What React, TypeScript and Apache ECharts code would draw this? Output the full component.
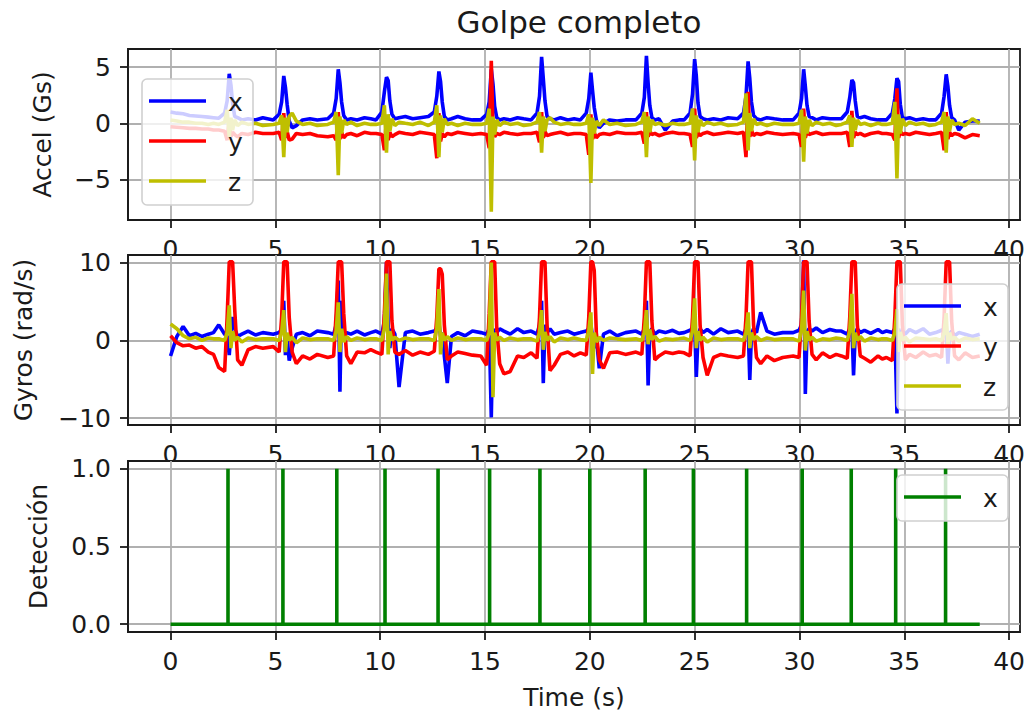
import { useEffect, useRef } from "react";
import * as echarts from "echarts";

// Sample times (s) shared by the accelerometer and gyroscope traces
const TIME = [
  0, 0.3, 0.6, 0.9, 1.2, 1.5, 1.8, 2.05,
  2.3, 2.58, 2.7, 2.8, 2.88, 2.96, 3.06, 3.2, 3.4, 3.7, 4.05, 4.4,
  4.9, 5.18, 5.3, 5.4, 5.48, 5.56, 5.66, 5.8, 6.0, 6.3, 6.65, 7.0,
  7.5, 7.78, 7.9, 8.0, 8.08, 8.16, 8.26, 8.4, 8.6, 8.9, 9.25, 9.55,
  9.8, 10.08, 10.2, 10.3, 10.38, 10.46, 10.56, 10.7, 10.9, 11.2, 11.55, 11.9,
  12.3, 12.58, 12.7, 12.8, 12.88, 12.96, 13.06, 13.2, 13.4, 13.7, 14.05, 14.4,
  14.8, 15.08, 15.2, 15.3, 15.38, 15.46, 15.56, 15.7, 15.9, 16.2, 16.55, 16.85,
  17.2, 17.48, 17.6, 17.7, 17.78, 17.86, 17.96, 18.1, 18.3, 18.6, 18.95, 19.25,
  19.55, 19.83, 19.95, 20.05, 20.13, 20.21, 20.31, 20.45, 20.65, 20.95, 21.3, 21.7,
  22.2, 22.48, 22.6, 22.7, 22.78, 22.86, 22.96, 23.1, 23.3, 23.6, 23.95, 24.25,
  24.5, 24.78, 24.9, 25.0, 25.08, 25.16, 25.26, 25.4, 25.6, 25.9, 26.25, 26.6,
  27.05, 27.33, 27.45, 27.55, 27.63, 27.71, 27.81, 27.95, 28.15, 28.45, 28.8, 29.2,
  29.7, 29.98, 30.1, 30.2, 30.28, 30.36, 30.46, 30.6, 30.8, 31.1, 31.45, 31.75,
  32.0, 32.28, 32.4, 32.5, 32.58, 32.66, 32.76, 32.9, 33.1, 33.4, 33.75, 33.95,
  34.15, 34.43, 34.55, 34.65, 34.73, 34.81, 34.91, 35.05, 35.25, 35.55, 35.9, 36.2,
  36.5, 36.78, 36.9, 37.0, 37.08, 37.16, 37.26, 37.4, 37.6, 37.9, 38.25, 38.6,
];

// Accelerometer (Gs)
const ACC_X = [
  1.0, 0.9, 0.85, 0.7, 0.65, 0.6, 0.55, 0.5,
  0.45, 0.9, 2.0, 4.4, 3.4, 1.8, 0.6, 0.5, 0.3, 0.4, 0.3, 0.5,
  0.3, 0.8, 1.9, 4.2, 3.2, 1.7, 0.2, -0.4, -0.2, 0.3, 0.4, 0.3,
  0.4, 0.9, 2.2, 4.8, 3.6, 1.9, 0.7, 0.3, 0.4, 0.3, 0.5, 0.4,
  0.3, 1.0, 2.8, 4.1, 3.8, 2.0, 0.8, 0.4, 0.5, 0.6, 0.4, 0.5,
  0.6, 1.0, 2.4, 4.6, 3.7, 1.9, 0.6, 0.3, 0.4, 0.6, 0.4, 0.3,
  0.3, 0.8, 1.9, 4.8, 3.5, 1.5, 0.5, 0.3, 0.4, 0.3, 0.5, 0.4,
  0.3, 0.9, 2.4, 5.9, 4.0, 2.0, 0.6, 0.4, 0.3, 0.5, 0.3, 0.4,
  0.3, 0.9, 2.2, 4.5, 2.9, 1.4, 0.3, -0.4, 0.0, 0.3, 0.2, 0.3,
  0.3, 0.9, 2.3, 6.0, 3.6, 1.6, 0.5, 0.3, 0.4, -0.6, 0.2, 0.3,
  0.3, 0.9, 2.6, 5.7, 4.2, 1.8, 0.6, 0.4, 0.3, 0.4, 0.3, 0.5,
  0.4, 0.9, 2.4, 5.5, 4.0, 1.9, 0.7, 0.4, 0.3, 0.5, 0.4, 0.3,
  0.3, 0.9, 2.2, 4.8, 3.3, 1.6, 0.6, 0.5, 0.3, 0.5, 0.4, 0.4,
  0.4, 1.0, 2.3, 3.85, 3.6, 2.0, 0.6, 0.5, 0.6, 0.4, 0.3, 0.3,
  0.3, 0.9, 2.2, 4.0, 3.7, 1.7, 0.5, 0.4, 0.5, 0.3, 0.4, 0.3,
  0.3, 0.9, 2.4, 4.35, 3.3, 1.6, 0.5, 0.3, -0.6, 0.1, 0.2, 0.2,
];
const ACC_Y = [
  -0.3, -0.35, -0.4, -0.45, -0.45, -0.5, -0.5, -0.6,
  -0.6, -0.7, -1.5, 0.3, -1.2, -0.8, -1.0, -1.2, -0.9, -1.0, -0.8, -0.9,
  -0.9, -0.8, -1.5, 0.9, -1.3, -0.7, -1.5, -1.4, -0.9, -1.0, -0.9, -1.1,
  -1.2, -1.1, -1.5, 1.0, -1.4, -0.8, -1.3, -1.0, -0.9, -1.1, -0.8, -0.9,
  -0.9, -1.0, -2.4, 0.5, -1.5, -0.8, -1.2, -1.0, -0.8, -0.9, -1.0, -0.8,
  -0.9, -1.0, -3.1, 0.9, -1.6, -0.9, -1.2, -0.9, -1.0, -0.8, -0.9, -1.0,
  -0.9, -1.0, -2.2, 5.56, -0.5, -1.2, -0.9, -1.0, -0.8, -0.9, -1.0, -0.9,
  -0.9, -0.8, -1.7, 1.0, -1.3, -0.7, -1.1, -1.0, -0.9, -0.8, -1.0, -0.9,
  -0.9, -1.0, -2.8, 0.8, -1.4, -0.8, -1.3, -1.0, -0.9, -1.0, -0.8, -0.9,
  -0.9, -0.8, -1.8, 1.0, -1.2, -0.7, -1.0, -0.9, -1.1, -0.9, -0.8, -0.9,
  -0.9, -1.0, -2.1, 1.3, -1.3, -0.8, -1.1, -0.9, -0.8, -1.0, -0.9, -0.8,
  -0.9, -0.8, -3.0, 2.8, -1.2, -0.6, -1.1, -0.9, -1.0, -0.8, -0.9, -1.0,
  -0.9, -1.0, -2.1, 1.3, -1.3, -0.7, -1.0, -0.9, -0.8, -1.0, -0.9, -0.9,
  -0.9, -0.8, -2.1, 1.1, -1.3, -0.8, -1.0, -0.9, -1.1, -0.9, -0.8, -0.9,
  -0.9, -1.0, -1.5, 3.1, -1.3, -0.7, -1.0, -0.9, -1.0, -0.8, -0.9, -1.0,
  -0.9, -0.8, -2.4, 1.0, -1.4, -0.8, -1.1, -0.9, -1.0, -1.3, -1.0, -1.1,
];
const ACC_Z = [
  0.3, 0.2, 0.1, 0.1, 0.0, 0.0, -0.1, 0.0,
  -0.1, 0.1, 1.2, -1.2, 0.5, -0.6, 0.3, -0.2, 0.1, -0.1, 0.0, -0.2,
  -0.1, 0.0, 0.7, -3.0, 0.5, -0.8, 0.6, 0.9, 0.2, -0.1, 0.0, -0.2,
  -0.1, 0.1, 1.0, -4.6, 0.6, -0.9, 0.3, -0.1, 0.1, -0.2, 0.0, -0.1,
  -0.1, 0.0, 1.6, -2.6, 0.8, -0.7, 0.4, -0.2, 0.1, 0.0, -0.1, 0.1,
  -0.2, 0.1, 1.6, -3.0, 0.7, -0.8, 0.4, -0.1, 0.0, -0.2, 0.0, -0.1,
  -0.1, 0.0, 1.3, -7.85, 0.6, -1.0, 0.3, -0.2, 0.1, -0.1, 0.0, -0.2,
  -0.1, 0.1, 1.0, -2.6, 0.6, -0.7, 0.3, 0.5, 0.1, -0.1, 0.0, -0.1,
  -0.1, 0.0, 0.8, -5.3, 0.5, -0.9, 0.2, -0.2, 0.3, -0.1, 0.0, -0.2,
  -0.1, 0.1, 1.0, -3.0, 0.6, -0.8, 0.3, -0.1, 0.0, -0.2, 0.0, -0.1,
  -0.1, 0.0, 1.3, -3.3, 0.7, -0.8, 0.3, -0.2, 0.1, -0.1, 0.0, -0.2,
  -0.1, 0.1, 2.66, -2.4, 0.9, -0.7, 0.4, -0.1, 0.0, -0.2, 0.0, -0.1,
  -0.1, 0.0, 1.2, -3.4, 0.6, -0.9, 0.3, -0.2, 0.1, -0.1, 0.0, -0.2,
  -0.1, 0.1, 0.7, -2.1, 0.5, -0.6, 0.3, -0.1, 0.0, -0.2, 0.0, -0.1,
  -0.1, 0.0, 1.9, -4.9, 0.8, -0.9, 0.4, -0.2, 0.1, -0.1, 0.0, -0.2,
  -0.1, 0.1, 1.0, -2.6, 0.6, -0.7, 0.3, -0.1, 0.0, -0.2, 0.4, 0.0,
];

// Gyroscope (rad/s)
const GYR_X = [
  -2.0, 0.5, 1.8, 0.6, 0.9, 0.5, 0.8, 1.0,
  2.0, 0.8, 0.5, -1.9, 1.0, 3.0, 1.5, 0.5, 0.8, 1.2, 0.7, 1.0,
  0.8, 1.0, 1.5, 5.1, -1.9, 0.5, -2.6, -1.0, 0.8, 1.0, 0.6, 1.2,
  1.0, 0.8, 2.0, 7.7, -6.6, 5.1, 0.5, 1.0, 0.8, 1.2, 0.7, 1.0,
  1.2, 0.8, 2.5, 10.0, 2.0, -1.0, 1.5, 0.8, -6.0, 1.0, 1.2, 0.8,
  1.0, 1.2, 1.5, 2.3, 0.5, 1.0, -2.0, -5.5, 0.5, 1.0, 0.6, 1.2,
  1.0, 0.8, 1.5, -9.9, 1.5, 0.5, 1.0, 1.5, 1.2, 0.8, 1.5, 1.0,
  1.2, 0.8, 2.0, 5.1, -5.5, 2.0, 1.0, 1.5, 0.8, 1.0, 1.2, 0.8,
  1.0, 1.2, 1.5, 2.0, 0.5, -1.0, 0.5, -3.6, 0.8, 1.2, 0.6, 1.0,
  1.2, 0.8, 1.5, 5.1, -5.8, 1.0, 1.5, 0.8, 1.2, 1.0, 1.3, 0.9,
  1.0, 1.3, 1.5, 2.0, -4.7, 0.5, 1.5, 1.0, 1.4, 0.8, 1.5, 1.0,
  1.2, 0.8, 1.5, 2.0, -5.1, 0.8, 1.5, 1.0, 3.6, 1.2, 0.8, 1.0,
  1.0, 1.3, 2.0, 10.3, -6.9, 1.0, 1.5, 1.2, 1.6, 1.0, 1.4, 1.2,
  1.2, 0.8, 1.5, 2.0, -4.5, 0.8, 1.5, 1.0, 1.3, 0.9, 1.4, 1.0,
  1.2, 1.0, 1.5, -9.4, 1.5, 0.5, 1.2, 0.8, 1.4, 1.0, 1.5, 0.8,
  1.0, 1.3, 1.5, 2.0, -3.0, 0.8, 1.2, 0.6, 1.0, 0.8, 0.5, 0.8,
];
const GYR_Y = [
  0.6, -0.3, -0.7, -0.6, -1.0, -0.8, -1.5, -1.8,
  -3.5, -4.0, 3.0, 10.1, 10.1, 10.1, 4.0, -2.5, -3.2, -1.2, -0.8, -1.0,
  -0.8, -1.5, 3.0, 10.1, 10.1, 10.1, 3.0, -1.5, -3.0, -2.0, -2.4, -1.8,
  -2.2, -2.0, 3.5, 10.1, 10.1, 10.1, 3.5, -2.0, -3.0, -1.5, -1.6, -1.2,
  -1.5, -1.8, 3.5, 10.1, 10.1, 10.1, 2.5, -1.5, -1.8, -1.3, -1.9, -1.5,
  -1.8, -1.4, 3.0, 9.2, 9.2, 8.5, 2.0, -2.5, -2.0, -1.5, -1.7, -1.9,
  -2.0, -3.2, 3.5, 10.1, 10.1, 10.1, 1.5, -3.0, -4.3, -4.0, -2.0, -2.2,
  -1.6, -2.3, 3.0, 10.1, 10.1, 10.1, 2.0, -3.9, -3.2, -1.8, -1.5, -2.0,
  -1.6, -1.9, 3.0, 10.1, 10.1, 9.0, 1.0, -2.5, -3.6, -1.6, -1.5, -1.8,
  -1.5, -1.8, 3.0, 10.1, 10.1, 10.1, 2.5, -2.5, -2.0, -1.5, -1.7, -1.5,
  -1.6, -2.0, 3.0, 10.1, 10.1, 10.1, 2.0, -2.2, -4.5, -2.2, -1.8, -2.0,
  -2.2, -2.0, 3.0, 10.1, 10.1, 10.1, 2.0, -2.2, -3.0, -2.0, -2.6, -2.2,
  -2.0, -2.2, 3.0, 10.1, 10.1, 10.1, 2.5, -1.8, -2.5, -1.6, -2.2, -1.8,
  -2.0, -2.3, 3.0, 10.1, 10.1, 10.1, 2.0, -2.0, -2.3, -2.8, -2.0, -2.4,
  -2.2, -2.6, 3.0, 10.1, 10.1, 10.1, 2.0, -2.5, -1.8, -2.2, -1.5, -2.0,
  -1.8, -2.2, 3.0, 10.1, 10.1, 10.1, 2.5, -2.0, -2.5, -1.6, -2.2, -2.0,
];
const GYR_Z = [
  2.1, 1.5, 0.6, 0.2, 0.4, 0.0, 0.3, 0.2,
  0.2, 0.0, 1.0, 4.5, -1.0, 1.2, 0.0, 0.4, -0.2, 0.3, 0.1, 0.2,
  0.2, 0.0, 1.0, 3.9, -1.5, 1.0, 0.0, 0.4, -0.3, 0.3, 0.1, 0.2,
  0.2, 0.0, 1.2, 4.9, -1.5, 1.5, -0.2, 0.5, 0.0, 0.3, 0.1, 0.2,
  0.2, 0.0, 1.5, 8.6, -1.8, 1.2, 0.0, 0.4, 0.0, 0.3, 0.1, 0.2,
  0.2, 0.0, 1.5, 6.6, -1.8, 1.0, 0.0, 0.5, 0.0, 0.3, 0.1, 0.2,
  0.2, 0.0, 1.0, 10.0, -7.3, 1.0, 0.0, 0.4, 0.0, 0.3, 0.1, 0.2,
  0.2, -0.1, 1.0, 3.9, -1.2, 1.1, 0.0, 0.5, -0.2, 0.3, 0.1, 0.3,
  0.1, 0.0, 1.2, 3.6, -4.3, 1.0, -0.2, 0.4, 0.0, 0.3, 0.2, 0.1,
  0.2, 0.0, 1.0, 3.9, -0.5, 1.4, 0.1, 0.5, -0.1, 0.2, 0.1, 0.2,
  0.3, 0.0, 1.2, 5.4, -1.0, 1.2, 0.0, 0.4, -0.2, 0.3, 0.1, 0.2,
  0.2, 0.0, 1.0, 3.6, -1.0, 1.0, 0.1, 0.5, 0.0, 0.3, 0.1, 0.2,
  0.2, -0.1, 1.3, 6.4, -1.3, 1.2, 0.0, 0.4, -0.1, 0.2, 0.1, 0.3,
  0.2, 0.0, 1.2, 6.0, -1.0, 1.0, 0.0, 0.5, -0.1, 0.3, 0.1, 0.2,
  0.2, 0.0, 1.0, 4.0, -1.5, 1.1, 0.0, 0.4, -0.2, 0.3, 0.2, 0.1,
  0.2, 0.0, 1.0, 3.5, -1.0, 1.0, 0.1, 0.4, -0.1, 0.3, 0.1, 0.2,
];

// Detected strikes (s) and the span of the detection trace
const DETECT_TIMES = [2.74, 5.36, 7.93, 10.23, 12.76, 15.22, 17.62, 20.0, 22.64, 24.94, 27.48, 30.13, 32.47, 34.59, 36.97];
const DETECT_START = 0;
const DETECT_END = 38.6;

// Axis ticks and labels
const X_TICKS = [0, 5, 10, 15, 20, 25, 30, 35, 40];
const ACC_TICKS = [-5, 0, 5];
const GYR_TICKS = [-10, 0, 10];
const DET_TICKS = [0, 0.5, 1];
const TITLE = "Golpe completo";
const Y_NAMES = ["Accel (Gs)", "Gyros (rad/s)", "Detección"];
const X_NAME = "Time (s)";
const AXIS_NAMES = ["x", "y", "z"];
const DET_NAME = "x";

const BLUE = "#0000ff";
const RED = "#ff0000";
const OLIVE = "#bfbf00";
const GREEN = "#008000";
const INK = "#1a1a1a";
const FONT = "DejaVu Sans";
const FONT_SIZE = 25;
const LINE_W = 3.6;

const minus = (s: string) => s.replace("-", "\u2212");

// Framed legend box with a short line sample and a label per entry
function legend(x: number, y: number, names: string[], colors: string[]) {
  const h = 46 + (names.length - 1) * 40;
  const z = 40;
  const children: any[] = [
    {
      type: "rect",
      z,
      shape: { x: 0, y: 0, width: 111, height: h, r: 5 },
      style: { fill: "rgba(255,255,255,0.8)", stroke: "#d0d0d0", lineWidth: 1.6 },
    },
  ];
  names.forEach((n, i) => {
    const ly = 22 + i * 40;
    children.push({
      type: "line",
      z: z + 1,
      shape: { x1: 7, y1: ly, x2: 64, y2: ly },
      style: { stroke: colors[i], lineWidth: LINE_W },
    });
    children.push({
      type: "text",
      z: z + 1,
      x: 86,
      y: ly + 1,
      style: { text: n, fill: INK, fontSize: FONT_SIZE, fontFamily: FONT, align: "left", verticalAlign: "middle" },
    });
  });
  return { type: "group", x, y, z, children };
}

export default function App() {
  const ref = useRef<HTMLDivElement>(null);

  useEffect(() => {
    if (!ref.current) return;
    const chart = echarts.init(ref.current, null, { renderer: "svg" });

    const grids = [
      { left: 128, top: 49, width: 894, height: 171, z: 0 },
      { left: 128, top: 255, width: 894, height: 170, z: 4 },
      { left: 128, top: 461, width: 894, height: 171, z: 7 },
    ];
    const yRanges = [
      { min: -8.59, max: 6.6, ticks: ACC_TICKS, fmt: (v: number) => minus(String(v)) },
      { min: -10.88, max: 10.98, ticks: GYR_TICKS, fmt: (v: number) => minus(String(v)) },
      { min: -0.05, max: 1.05, ticks: DET_TICKS, fmt: (v: number) => v.toFixed(1) },
    ];
    const nameGaps = [73, 92, 77];

    const labelStyle = { fontSize: FONT_SIZE, fontFamily: FONT, color: INK };
    const tickStyle = { color: INK, width: 1.8 };
    const gridLine = { color: "#b0b0b0", width: 1.8 };

    const xAxis = grids.map((g, i) => ({
      type: "value",
      gridIndex: i,
      min: -2.03,
      max: 40.52,
      z: g.z + 1,
      axisLine: { show: true, onZero: false, lineStyle: { color: INK, width: 1.8 } },
      axisTick: { show: true, length: 8, lineStyle: tickStyle, customValues: X_TICKS },
      axisLabel: { ...labelStyle, margin: 17, customValues: X_TICKS, formatter: (v: number) => minus(String(v)) },
      splitLine: { show: true, lineStyle: gridLine },
      name: i === 2 ? X_NAME : "",
      nameLocation: "middle",
      nameGap: 53,
      nameTextStyle: { fontSize: FONT_SIZE, fontFamily: FONT, color: INK },
    }));

    const yAxis = grids.map((g, i) => ({
      type: "value",
      gridIndex: i,
      min: yRanges[i].min,
      max: yRanges[i].max,
      z: g.z + 1,
      axisLine: { show: true, onZero: false, lineStyle: { color: INK, width: 1.8 } },
      axisTick: { show: true, length: 8, lineStyle: tickStyle, customValues: yRanges[i].ticks },
      axisLabel: { ...labelStyle, margin: 17, customValues: yRanges[i].ticks, formatter: yRanges[i].fmt },
      splitLine: { show: true, lineStyle: gridLine },
      name: Y_NAMES[i],
      nameLocation: "middle",
      nameRotate: 90,
      nameGap: nameGaps[i],
      nameTextStyle: { fontSize: FONT_SIZE, fontFamily: FONT, color: INK },
    }));

    const pairs = (vals: number[]) => TIME.map((t, i) => [t, vals[i]]);
    const line = (name: string, data: number[][], color: string, idx: number) => ({
      name,
      type: "line",
      xAxisIndex: idx,
      yAxisIndex: idx,
      data,
      showSymbol: false,
      symbol: "none",
      z: grids[idx].z + 2,
      lineStyle: { color, width: LINE_W },
      itemStyle: { color },
      clip: true,
    });

    const detData: number[][] = [[DETECT_START, 0]];
    DETECT_TIMES.forEach((t) => {
      detData.push([t, 0], [t, 1], [t, 0]);
    });
    detData.push([DETECT_END, 0]);

    const series = [
      line(AXIS_NAMES[0], pairs(ACC_X), BLUE, 0),
      line(AXIS_NAMES[1], pairs(ACC_Y), RED, 0),
      line(AXIS_NAMES[2], pairs(ACC_Z), OLIVE, 0),
      line(AXIS_NAMES[0], pairs(GYR_X), BLUE, 1),
      line(AXIS_NAMES[1], pairs(GYR_Y), RED, 1),
      line(AXIS_NAMES[2], pairs(GYR_Z), OLIVE, 1),
      line(DET_NAME, detData, GREEN, 2),
    ];

    chart.setOption({
      animation: false,
      backgroundColor: "#ffffff",
      title: {
        text: TITLE,
        left: 574,
        top: 1,
        textAlign: "center",
        textStyle: { fontSize: 31, fontWeight: "normal", fontFamily: FONT, color: INK },
      },
      grid: grids.map((g) => ({
        ...g,
        show: true,
        backgroundColor: "#ffffff",
        borderColor: INK,
        borderWidth: 1.8,
      })),
      xAxis,
      yAxis,
      series,
      graphic: [
        legend(142, 79, AXIS_NAMES, [BLUE, RED, OLIVE]),
        legend(897, 284, AXIS_NAMES, [BLUE, RED, OLIVE]),
        legend(897, 475, [DET_NAME], [GREEN]),
      ],
    });

    return () => chart.dispose();
  }, []);

  return (
    <div
      ref={ref}
      style={{ position: "absolute", left: 0, top: 0, width: 1028, height: 717 }}
    />
  );
}
